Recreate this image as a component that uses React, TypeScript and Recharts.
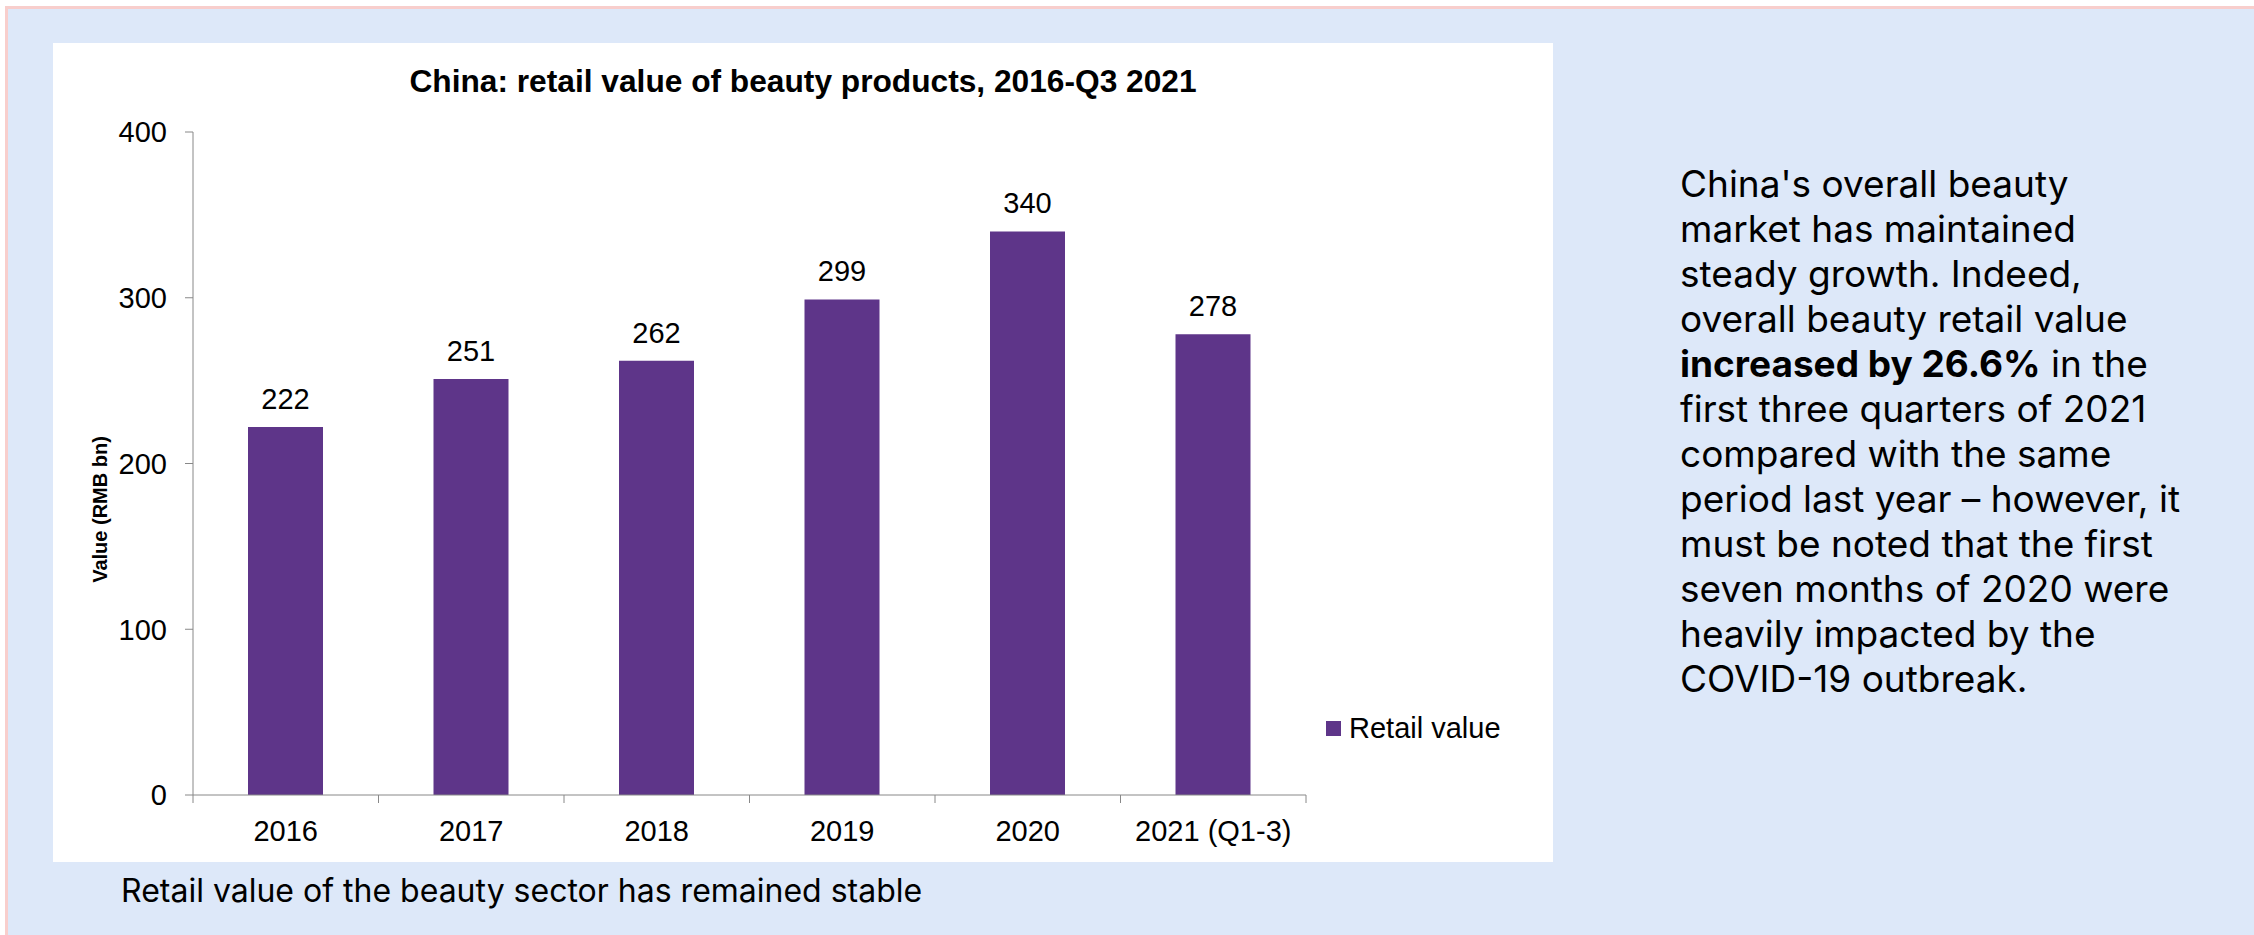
import { BarChart, Bar, XAxis, YAxis, Legend, LabelList, Label } from "recharts";

const categories = ["2016", "2017", "2018", "2019", "2020", "2021 (Q1-3)"];
const retailValue = [222, 251, 262, 299, 340, 278];
const yTicks = [0, 100, 200, 300, 400];

const seriesName = "Retail value";
const chartTitle = "China: retail value of beauty products, 2016-Q3 2021";
const yAxisTitle = "Value (RMB bn)";
const caption = "Retail value of the beauty sector has remained stable";

// commentary lines, wrapped as in the source slide; [text, bold]
const noteLines: [string, boolean][][] = [
  [["China's overall beauty", false]],
  [["market has maintained", false]],
  [["steady growth. Indeed,", false]],
  [["overall beauty retail value", false]],
  [["increased by 26.6%", true], [" in the", false]],
  [["first three quarters of 2021", false]],
  [["compared with the same", false]],
  [["period last year \u2013 however, it", false]],
  [["must be noted that the first", false]],
  [["seven months of 2020 were", false]],
  [["heavily impacted by the", false]],
  [["COVID-19 outbreak.", false]],
];

const data = categories.map((year, i) => ({ year, value: retailValue[i] }));

const BAR = "#5e3589";
const AXIS = "#888888";
const CHART_FONT = '"Liberation Sans", Arial, sans-serif';
const TEXT_FONT = 'Inter, "Open Sans", sans-serif';

const CHART_W = 1500;
const CHART_H = 819;
const margin = { top: 89, right: 247, left: 40, bottom: 7 };
const TICK_SIZE = 8;
const X_TICK_MARGIN = 17;

function YearTick(props: any) {
  const { x, y, payload, index, visibleTicksCount } = props;
  const band = (CHART_W - margin.left - 100 - margin.right) / categories.length;
  const half = payload?.offset || band / 2;
  const axisY = y - TICK_SIZE - X_TICK_MARGIN;
  const isLast = index === (visibleTicksCount ?? categories.length) - 1;
  return (
    <g>
      <line x1={x - half} x2={x - half} y1={axisY} y2={axisY + TICK_SIZE} stroke={AXIS} />
      {isLast && (
        <line x1={x + half} x2={x + half} y1={axisY} y2={axisY + TICK_SIZE} stroke={AXIS} />
      )}
      <text x={x} y={y} dy="0.71em" textAnchor="middle" fill="#000" fontSize={29} fontFamily={CHART_FONT}>
        {payload.value}
      </text>
    </g>
  );
}

function AxisTitle(props: any) {
  const vb = props.viewBox || { x: margin.left, y: margin.top, width: 100, height: 663 };
  const cx = vb.x + 7;
  const cy = vb.y + vb.height / 2 + 46;
  return (
    <text
      x={cx}
      y={cy}
      dy="0.35em"
      textAnchor="middle"
      transform={`rotate(-90, ${cx}, ${cy})`}
      fontSize={20}
      fontWeight="bold"
      fontFamily={CHART_FONT}
      fill="#000"
    >
      {yAxisTitle}
    </text>
  );
}

function LegendBox(props: any) {
  const items = props.payload || [];
  return (
    <div>
      {items.map((it: any) => (
        <div key={it.value} style={{ display: "flex", alignItems: "center", whiteSpace: "nowrap" }}>
          <span style={{ width: 15, height: 15, background: it.color, marginRight: 8, display: "inline-block" }} />
          <span style={{ fontFamily: CHART_FONT, fontSize: 29, lineHeight: "29px", color: "#000" }}>{it.value}</span>
        </div>
      ))}
    </div>
  );
}

export default function App() {
  return (
    <div style={{ position: "fixed", left: 0, top: 0, width: 2254, height: 935, background: "#fff", overflow: "hidden" }}>
      <div
        style={{
          position: "absolute",
          left: 5,
          top: 6,
          right: 0,
          bottom: 0,
          background: "#dde8f9",
          borderTop: "3px solid #f8cecc",
          borderLeft: "3px solid #f8cecc",
        }}
      />
      <div style={{ position: "absolute", left: 53, top: 43, width: CHART_W, height: CHART_H, background: "#fff" }}>
        <div
          style={{
            position: "absolute",
            left: 0,
            top: 22,
            width: CHART_W,
            textAlign: "center",
            fontFamily: CHART_FONT,
            fontWeight: "bold",
            fontSize: 31.7,
            lineHeight: "32px",
            color: "#000",
            whiteSpace: "nowrap",
          }}
        >
          {chartTitle}
        </div>
        <div style={{ position: "absolute", left: 0, top: 0 }}>
          <BarChart width={CHART_W} height={CHART_H} data={data} margin={margin} barSize={75}>
            <XAxis
              dataKey="year"
              height={60}
              stroke={AXIS}
              tickLine={false}
              tickSize={TICK_SIZE}
              tickMargin={X_TICK_MARGIN}
              interval={0}
              tick={<YearTick />}
            />
            <YAxis
              width={100}
              domain={[0, 400]}
              ticks={yTicks}
              stroke={AXIS}
              tickSize={TICK_SIZE}
              tickMargin={18}
              tick={{ fill: "#000", fontSize: 29, fontFamily: CHART_FONT }}
            >
              <Label content={<AxisTitle />} />
            </YAxis>
            <Legend
              layout="vertical"
              align="center"
              verticalAlign="middle"
              wrapperStyle={{ left: 1273, top: 671, width: "auto", height: "auto" }}
              content={<LegendBox />}
            />
            <Bar dataKey="value" name={seriesName} fill={BAR} isAnimationActive={false}>
              <LabelList
                dataKey="value"
                position="top"
                offset={18}
                fill="#000"
                fontSize={29}
                fontFamily={CHART_FONT}
              />
            </Bar>
          </BarChart>
        </div>
      </div>
      <div
        style={{
          position: "absolute",
          left: 1680,
          top: 161,
          fontFamily: TEXT_FONT,
          fontSize: 37,
          lineHeight: "45px",
          color: "#000",
          whiteSpace: "nowrap",
        }}
      >
        {noteLines.map((line, i) => (
          <div key={i}>
            {line.map(([t, b], j) => (
              <span key={j} style={{ fontWeight: b ? 700 : 400 }}>
                {t}
              </span>
            ))}
          </div>
        ))}
      </div>
      <div
        style={{
          position: "absolute",
          left: 121,
          top: 871,
          fontFamily: TEXT_FONT,
          fontSize: 32,
          lineHeight: "40px",
          color: "#000",
          whiteSpace: "nowrap",
        }}
      >
        {caption}
      </div>
    </div>
  );
}
